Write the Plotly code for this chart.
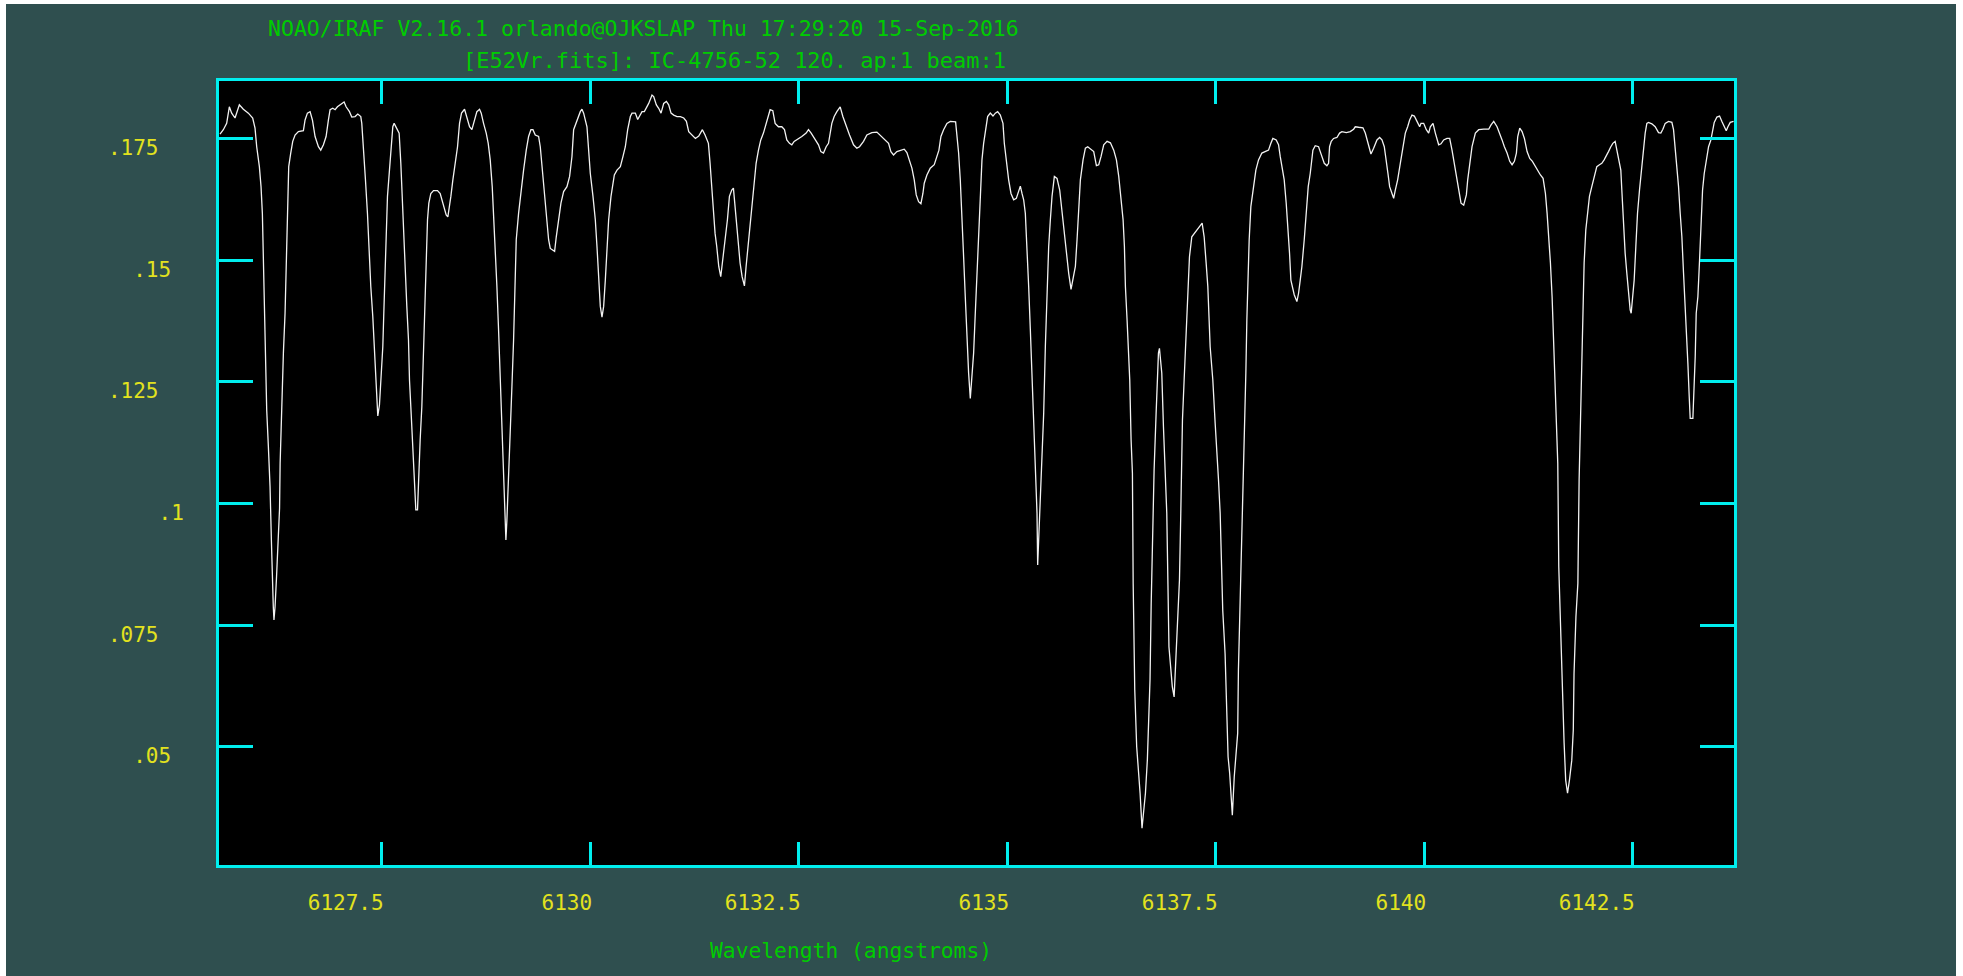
import plotly.graph_objects as go

# ---------------- data ----------------
wavelength = [
    6125.562, 6125.602, 6125.642, 6125.674, 6125.702, 6125.742, 6125.794, 6125.842, 6125.902, 6125.954,
    6125.982, 6126.002, 6126.034, 6126.054, 6126.070, 6126.082, 6126.094, 6126.110, 6126.122, 6126.142,
    6126.162, 6126.178, 6126.190, 6126.201, 6126.209, 6126.222, 6126.240, 6126.258, 6126.276, 6126.283,
    6126.302, 6126.322, 6126.342, 6126.354, 6126.370, 6126.386, 6126.410, 6126.434, 6126.462, 6126.502,
    6126.562, 6126.582, 6126.610, 6126.642, 6126.670, 6126.702, 6126.742, 6126.770, 6126.802, 6126.834,
    6126.862, 6126.882, 6126.914, 6126.942, 6126.970, 6127.002, 6127.050, 6127.074, 6127.114, 6127.142,
    6127.182, 6127.214, 6127.250, 6127.262, 6127.282, 6127.306, 6127.330, 6127.346, 6127.370, 6127.394,
    6127.410, 6127.430, 6127.442, 6127.454, 6127.474, 6127.490, 6127.514, 6127.526, 6127.542, 6127.554,
    6127.570, 6127.594, 6127.614, 6127.634, 6127.650, 6127.682, 6127.710, 6127.730, 6127.742, 6127.762,
    6127.782, 6127.802, 6127.822, 6127.834, 6127.854, 6127.874, 6127.894, 6127.910, 6127.930, 6127.942,
    6127.962, 6127.982, 6127.994, 6128.010, 6128.022, 6128.034, 6128.050, 6128.066, 6128.090, 6128.122,
    6128.170, 6128.202, 6128.226, 6128.250, 6128.274, 6128.294, 6128.314, 6128.330, 6128.354, 6128.382,
    6128.410, 6128.434, 6128.458, 6128.494, 6128.522, 6128.554, 6128.582, 6128.610, 6128.642, 6128.674,
    6128.694, 6128.722, 6128.754, 6128.778, 6128.802, 6128.826, 6128.842, 6128.862, 6128.882, 6128.902,
    6128.922, 6128.942, 6128.962, 6128.978, 6128.990, 6129.002, 6129.022, 6129.042, 6129.062, 6129.082,
    6129.098, 6129.114, 6129.142, 6129.170, 6129.202, 6129.234, 6129.262, 6129.290, 6129.314, 6129.342,
    6129.382, 6129.402, 6129.422, 6129.450, 6129.474, 6129.502, 6129.522, 6129.554, 6129.574, 6129.594,
    6129.622, 6129.650, 6129.682, 6129.722, 6129.754, 6129.782, 6129.802, 6129.842, 6129.882, 6129.902,
    6129.922, 6129.962, 6129.982, 6130.002, 6130.034, 6130.062, 6130.082, 6130.102, 6130.122, 6130.142,
    6130.162, 6130.182, 6130.202, 6130.222, 6130.250, 6130.274, 6130.290, 6130.322, 6130.362, 6130.394,
    6130.422, 6130.450, 6130.482, 6130.502, 6130.542, 6130.570, 6130.594, 6130.622, 6130.650, 6130.674,
    6130.702, 6130.742, 6130.762, 6130.794, 6130.822, 6130.850, 6130.882, 6130.914, 6130.942, 6130.970,
    6131.002, 6131.042, 6131.082, 6131.122, 6131.154, 6131.182, 6131.222, 6131.262, 6131.302, 6131.346,
    6131.378, 6131.418, 6131.438, 6131.458, 6131.478, 6131.498, 6131.518, 6131.542, 6131.566, 6131.590,
    6131.618, 6131.646, 6131.670, 6131.698, 6131.718, 6131.738, 6131.758, 6131.778, 6131.798, 6131.822,
    6131.850, 6131.870, 6131.894, 6131.918, 6131.938, 6131.966, 6131.990, 6132.018, 6132.046, 6132.078,
    6132.110, 6132.138, 6132.158, 6132.190, 6132.218, 6132.258, 6132.298, 6132.330, 6132.358, 6132.390,
    6132.418, 6132.446, 6132.478, 6132.538, 6132.590, 6132.618, 6132.650, 6132.698, 6132.738, 6132.766,
    6132.798, 6132.830, 6132.858, 6132.898, 6132.926, 6132.958, 6132.998, 6133.030, 6133.070, 6133.110,
    6133.158, 6133.198, 6133.230, 6133.278, 6133.318, 6133.378, 6133.438, 6133.478, 6133.538, 6133.578,
    6133.606, 6133.638, 6133.678, 6133.718, 6133.766, 6133.798, 6133.830, 6133.858, 6133.886, 6133.910,
    6133.938, 6133.966, 6133.990, 6134.006, 6134.038, 6134.078, 6134.126, 6134.158, 6134.182, 6134.206,
    6134.238, 6134.278, 6134.318, 6134.382, 6134.398, 6134.418, 6134.438, 6134.458, 6134.478, 6134.498,
    6134.518, 6134.538, 6134.558, 6134.578, 6134.598, 6134.618, 6134.638, 6134.658, 6134.678, 6134.698,
    6134.718, 6134.738, 6134.766, 6134.798, 6134.830, 6134.858, 6134.886, 6134.918, 6134.950, 6134.966,
    6134.990, 6135.018, 6135.046, 6135.078, 6135.110, 6135.138, 6135.158, 6135.178, 6135.198, 6135.218,
    6135.238, 6135.258, 6135.278, 6135.298, 6135.318, 6135.338, 6135.358, 6135.366, 6135.378, 6135.398,
    6135.418, 6135.438, 6135.458, 6135.478, 6135.498, 6135.518, 6135.538, 6135.566, 6135.598, 6135.630,
    6135.658, 6135.686, 6135.710, 6135.738, 6135.766, 6135.790, 6135.818, 6135.838, 6135.858, 6135.878,
    6135.910, 6135.938, 6135.966, 6135.998, 6136.038, 6136.070, 6136.098, 6136.126, 6136.158, 6136.198,
    6136.238, 6136.278, 6136.310, 6136.338, 6136.366, 6136.390, 6136.406, 6136.418, 6136.438, 6136.458,
    6136.470, 6136.486, 6136.502, 6136.511, 6136.530, 6136.553, 6136.576, 6136.594, 6136.617, 6136.635,
    6136.658, 6136.681, 6136.695, 6136.713, 6136.727, 6136.741, 6136.762, 6136.786, 6136.802, 6136.814,
    6136.826, 6136.838, 6136.854, 6136.874, 6136.894, 6136.914, 6136.928, 6136.940, 6136.960, 6136.980,
    6137.002, 6137.016, 6137.034, 6137.053, 6137.066, 6137.082, 6137.102, 6137.122, 6137.146, 6137.166,
    6137.186, 6137.214, 6137.242, 6137.274, 6137.306, 6137.338, 6137.362, 6137.386, 6137.406, 6137.434,
    6137.466, 6137.494, 6137.514, 6137.534, 6137.554, 6137.568, 6137.585, 6137.613, 6137.631, 6137.649,
    6137.668, 6137.686, 6137.700, 6137.723, 6137.746, 6137.764, 6137.773, 6137.796, 6137.815, 6137.834,
    6137.846, 6137.862, 6137.874, 6137.886, 6137.902, 6137.922, 6137.954, 6137.982, 6138.014, 6138.054,
    6138.106, 6138.134, 6138.162, 6138.186, 6138.226, 6138.254, 6138.274, 6138.298, 6138.322, 6138.346,
    6138.366, 6138.386, 6138.402, 6138.426, 6138.442, 6138.474, 6138.494, 6138.514, 6138.534, 6138.562,
    6138.586, 6138.610, 6138.634, 6138.666, 6138.694, 6138.734, 6138.754, 6138.774, 6138.802, 6138.834,
    6138.854, 6138.866, 6138.886, 6138.914, 6138.954, 6138.986, 6139.014, 6139.066, 6139.114, 6139.154,
    6139.174, 6139.214, 6139.266, 6139.294, 6139.314, 6139.334, 6139.362, 6139.394, 6139.434, 6139.466,
    6139.494, 6139.522, 6139.546, 6139.566, 6139.586, 6139.614, 6139.634, 6139.654, 6139.682, 6139.714,
    6139.746, 6139.774, 6139.802, 6139.826, 6139.854, 6139.882, 6139.914, 6139.946, 6139.962, 6139.994,
    6140.026, 6140.054, 6140.074, 6140.106, 6140.134, 6140.154, 6140.174, 6140.202, 6140.234, 6140.274,
    6140.306, 6140.334, 6140.354, 6140.386, 6140.414, 6140.442, 6140.474, 6140.506, 6140.522, 6140.546,
    6140.574, 6140.614, 6140.654, 6140.714, 6140.774, 6140.802, 6140.834, 6140.874, 6140.906, 6140.934,
    6140.962, 6140.994, 6141.026, 6141.054, 6141.082, 6141.106, 6141.122, 6141.146, 6141.174, 6141.202,
    6141.234, 6141.266, 6141.298, 6141.334, 6141.362, 6141.394, 6141.426, 6141.454, 6141.474, 6141.494,
    6141.514, 6141.534, 6141.554, 6141.574, 6141.586, 6141.602, 6141.614, 6141.637, 6141.660, 6141.678,
    6141.697, 6141.719, 6141.742, 6141.770, 6141.788, 6141.797, 6141.820, 6141.843, 6141.858, 6141.878,
    6141.890, 6141.902, 6141.918, 6141.938, 6141.958, 6141.982, 6142.010, 6142.038, 6142.070, 6142.102,
    6142.130, 6142.158, 6142.182, 6142.210, 6142.238, 6142.262, 6142.290, 6142.310, 6142.338, 6142.358,
    6142.370, 6142.390, 6142.410, 6142.430, 6142.450, 6142.470, 6142.482, 6142.498, 6142.518, 6142.538,
    6142.558, 6142.582, 6142.610, 6142.630, 6142.650, 6142.670, 6142.690, 6142.730, 6142.770, 6142.810,
    6142.838, 6142.862, 6142.890, 6142.930, 6142.970, 6142.990, 6143.010, 6143.030, 6143.050, 6143.070,
    6143.090, 6143.110, 6143.130, 6143.142, 6143.162, 6143.178, 6143.190, 6143.222, 6143.238, 6143.250,
    6143.262, 6143.282, 6143.302, 6143.318, 6143.338, 6143.358, 6143.382, 6143.410, 6143.438, 6143.462,
    6143.478, 6143.510, 6143.542, 6143.570, 6143.598, 6143.622, 6143.642, 6143.670, 6143.710,
]

flux = [
    0.1759, 0.1768, 0.1781, 0.1815, 0.1802, 0.1792, 0.1819, 0.1810, 0.1802, 0.1792,
    0.1771, 0.1733, 0.1692, 0.1651, 0.1596, 0.1494, 0.1391, 0.1288, 0.1192, 0.1117,
    0.1035, 0.0925, 0.0829, 0.0788, 0.0761, 0.0788, 0.0850, 0.0932, 0.0990, 0.1083,
    0.1213, 0.1309, 0.1391, 0.1480, 0.1596, 0.1692, 0.1720, 0.1744, 0.1757, 0.1764,
    0.1766, 0.1788, 0.1802, 0.1805, 0.1788, 0.1754, 0.1733, 0.1726, 0.1737, 0.1754,
    0.1788, 0.1809, 0.1812, 0.1809, 0.1815, 0.1819, 0.1825, 0.1815, 0.1805, 0.1794,
    0.1795, 0.1800, 0.1795, 0.1781, 0.1733, 0.1665, 0.1596, 0.1528, 0.1446, 0.1384,
    0.1322, 0.1268, 0.1206, 0.1180, 0.1203, 0.1254, 0.1322, 0.1391, 0.1487, 0.1562,
    0.1631, 0.1685, 0.1733, 0.1774, 0.1781, 0.1771, 0.1761, 0.1699, 0.1644, 0.1569,
    0.1487, 0.1405, 0.1336, 0.1254, 0.1185, 0.1117, 0.1049, 0.0987, 0.0987, 0.1049,
    0.1131, 0.1199, 0.1268, 0.1350, 0.1446, 0.1514, 0.1583, 0.1617, 0.1637, 0.1643,
    0.1643, 0.1637, 0.1624, 0.1610, 0.1593, 0.1589, 0.1610, 0.1631, 0.1665, 0.1699,
    0.1733, 0.1781, 0.1802, 0.1810, 0.1795, 0.1774, 0.1768, 0.1788, 0.1805, 0.1810,
    0.1802, 0.1781, 0.1761, 0.1740, 0.1706, 0.1651, 0.1596, 0.1528, 0.1446, 0.1357,
    0.1254, 0.1151, 0.1049, 0.0953, 0.0925, 0.0966, 0.1049, 0.1131, 0.1240, 0.1336,
    0.1446, 0.1542, 0.1596, 0.1644, 0.1685, 0.1726, 0.1754, 0.1768, 0.1768, 0.1757,
    0.1754, 0.1733, 0.1692, 0.1644, 0.1596, 0.1542, 0.1524, 0.1521, 0.1518, 0.1548,
    0.1583, 0.1617, 0.1641, 0.1651, 0.1672, 0.1713, 0.1768, 0.1788, 0.1805, 0.1810,
    0.1802, 0.1774, 0.1733, 0.1678, 0.1631, 0.1583, 0.1528, 0.1459, 0.1405, 0.1383,
    0.1405, 0.1459, 0.1528, 0.1583, 0.1631, 0.1665, 0.1675, 0.1685, 0.1692, 0.1713,
    0.1733, 0.1768, 0.1795, 0.1802, 0.1802, 0.1789, 0.1798, 0.1805, 0.1805, 0.1812,
    0.1822, 0.1839, 0.1836, 0.1819, 0.1812, 0.1802, 0.1822, 0.1826, 0.1819, 0.1802,
    0.1798, 0.1795, 0.1795, 0.1792, 0.1785, 0.1764, 0.1757, 0.1750, 0.1755, 0.1768,
    0.1757, 0.1740, 0.1699, 0.1644, 0.1596, 0.1555, 0.1528, 0.1487, 0.1466, 0.1500,
    0.1542, 0.1583, 0.1631, 0.1644, 0.1648, 0.1610, 0.1569, 0.1528, 0.1494, 0.1466,
    0.1447, 0.1487, 0.1528, 0.1569, 0.1617, 0.1658, 0.1699, 0.1726, 0.1747, 0.1761,
    0.1781, 0.1802, 0.1809, 0.1807, 0.1781, 0.1774, 0.1774, 0.1768, 0.1747, 0.1740,
    0.1737, 0.1744, 0.1747, 0.1754, 0.1761, 0.1768, 0.1761, 0.1747, 0.1737, 0.1723,
    0.1720, 0.1733, 0.1740, 0.1781, 0.1795, 0.1805, 0.1815, 0.1795, 0.1774, 0.1757,
    0.1737, 0.1730, 0.1733, 0.1744, 0.1757, 0.1762, 0.1763, 0.1757, 0.1747, 0.1740,
    0.1723, 0.1716, 0.1723, 0.1726, 0.1728, 0.1721, 0.1706, 0.1689, 0.1665, 0.1634,
    0.1620, 0.1616, 0.1637, 0.1658, 0.1675, 0.1689, 0.1696, 0.1713, 0.1726, 0.1754,
    0.1768, 0.1781, 0.1785, 0.1784, 0.1761, 0.1720, 0.1665, 0.1596, 0.1507, 0.1425,
    0.1336, 0.1268, 0.1216, 0.1254, 0.1309, 0.1391, 0.1473, 0.1562, 0.1651, 0.1706,
    0.1740, 0.1768, 0.1795, 0.1802, 0.1796, 0.1802, 0.1805, 0.1798, 0.1781, 0.1740,
    0.1699, 0.1665, 0.1637, 0.1624, 0.1627, 0.1644, 0.1652, 0.1637, 0.1624, 0.1596,
    0.1528, 0.1446, 0.1357, 0.1254, 0.1151, 0.1062, 0.0980, 0.0874, 0.0925, 0.1001,
    0.1062, 0.1185, 0.1322, 0.1446, 0.1528, 0.1583, 0.1631, 0.1672, 0.1668, 0.1644,
    0.1596, 0.1562, 0.1514, 0.1473, 0.1440, 0.1459, 0.1487, 0.1542, 0.1610, 0.1665,
    0.1706, 0.1730, 0.1733, 0.1728, 0.1723, 0.1694, 0.1696, 0.1713, 0.1737, 0.1744,
    0.1741, 0.1726, 0.1706, 0.1672, 0.1631, 0.1583, 0.1528, 0.1446, 0.1377, 0.1309,
    0.1254, 0.1131, 0.1062, 0.0836, 0.0617, 0.0501, 0.0453, 0.0405, 0.0333, 0.0364,
    0.0405, 0.0473, 0.0549, 0.0638, 0.0795, 0.0939, 0.1069, 0.1185, 0.1254, 0.1309,
    0.1319, 0.1295, 0.1268, 0.1158, 0.1076, 0.0980, 0.0833, 0.0706, 0.0665, 0.0624,
    0.0603, 0.0658, 0.0740, 0.0809, 0.0843, 0.0980, 0.1172, 0.1254, 0.1357, 0.1459,
    0.1507, 0.1548, 0.1555, 0.1562, 0.1569, 0.1576, 0.1548, 0.1494, 0.1446, 0.1322,
    0.1254, 0.1165, 0.1117, 0.1049, 0.0980, 0.0900, 0.0781, 0.0692, 0.0576, 0.0480,
    0.0446, 0.0391, 0.0360, 0.0439, 0.0487, 0.0528, 0.0658, 0.0816, 0.0932, 0.1035,
    0.1151, 0.1268, 0.1377, 0.1459, 0.1542, 0.1610, 0.1651, 0.1685, 0.1706, 0.1720,
    0.1724, 0.1726, 0.1740, 0.1750, 0.1747, 0.1737, 0.1713, 0.1692, 0.1665, 0.1617,
    0.1569, 0.1514, 0.1459, 0.1439, 0.1429, 0.1415, 0.1432, 0.1459, 0.1487, 0.1542,
    0.1596, 0.1651, 0.1678, 0.1726, 0.1735, 0.1733, 0.1723, 0.1713, 0.1699, 0.1694,
    0.1699, 0.1733, 0.1744, 0.1750, 0.1752, 0.1761, 0.1764, 0.1762, 0.1764, 0.1769,
    0.1774, 0.1773, 0.1772, 0.1761, 0.1747, 0.1733, 0.1718, 0.1730, 0.1747, 0.1752,
    0.1747, 0.1733, 0.1706, 0.1678, 0.1651, 0.1634, 0.1627, 0.1644, 0.1665, 0.1699,
    0.1733, 0.1761, 0.1774, 0.1788, 0.1798, 0.1796, 0.1785, 0.1774, 0.1781, 0.1781,
    0.1768, 0.1761, 0.1774, 0.1781, 0.1761, 0.1747, 0.1737, 0.1739, 0.1747, 0.1750,
    0.1750, 0.1726, 0.1706, 0.1672, 0.1644, 0.1617, 0.1613, 0.1634, 0.1665, 0.1699,
    0.1733, 0.1761, 0.1768, 0.1769, 0.1769, 0.1778, 0.1785, 0.1774, 0.1761, 0.1747,
    0.1733, 0.1720, 0.1703, 0.1696, 0.1703, 0.1720, 0.1754, 0.1771, 0.1764, 0.1750,
    0.1723, 0.1709, 0.1703, 0.1692, 0.1682, 0.1675, 0.1668, 0.1637, 0.1596, 0.1548,
    0.1494, 0.1425, 0.1322, 0.1254, 0.1185, 0.1083, 0.0870, 0.0727, 0.0610, 0.0508,
    0.0432, 0.0405, 0.0432, 0.0473, 0.0535, 0.0651, 0.0768, 0.0836, 0.1049, 0.1220,
    0.1322, 0.1425, 0.1494, 0.1562, 0.1596, 0.1631, 0.1651, 0.1672, 0.1692, 0.1696,
    0.1699, 0.1706, 0.1713, 0.1723, 0.1733, 0.1740, 0.1744, 0.1726, 0.1699, 0.1685,
    0.1644, 0.1576, 0.1514, 0.1473, 0.1432, 0.1398, 0.1391, 0.1418, 0.1459, 0.1528,
    0.1596, 0.1644, 0.1699, 0.1733, 0.1761, 0.1781, 0.1783, 0.1780, 0.1774, 0.1762,
    0.1761, 0.1769, 0.1781, 0.1785, 0.1783, 0.1768, 0.1733, 0.1699, 0.1651, 0.1596,
    0.1548, 0.1473, 0.1411, 0.1357, 0.1288, 0.1220, 0.1175, 0.1175, 0.1240, 0.1302,
    0.1391, 0.1425, 0.1500, 0.1576, 0.1644, 0.1678, 0.1706, 0.1733, 0.1747, 0.1768,
    0.1783, 0.1794, 0.1796, 0.1785, 0.1774, 0.1766, 0.1774, 0.1783, 0.1785,
]

x_ticks = [6127.5, 6130, 6132.5, 6135, 6137.5, 6140, 6142.5]
x_tick_labels = ["6127.5", "6130", "6132.5", "6135", "6137.5", "6140", "6142.5"]
y_ticks = [0.05, 0.075, 0.1, 0.125, 0.15, 0.175]
y_tick_labels = [".05", ".075", ".1", ".125", ".15", ".175"]

title_line1 = "NOAO/IRAF V2.16.1 orlando@OJKSLAP Thu 17:29:20 15-Sep-2016"
title_line2 = "[E52Vr.fits]: IC-4756-52 120. ap:1 beam:1"
x_title = "Wavelength (angstroms)"

x_range = [6125.55, 6143.715]
y_range = [0.02576, 0.1868]

# ---------------- style ----------------
W, H = 1963, 976
ML, MR, MT, MB = 219, 229, 81, 111
PW, PH = W - ML - MR, H - MT - MB
BG = "#2f4f4f"
CYAN = "#00eeee"
YELLOW = "#e2e21e"
GREEN = "#00cc00"
FONT = "DejaVu Sans Mono"
NB = "\u00a0"


def px_to_paper_x(px):
    return (px - ML) / PW


def px_to_paper_y(py):
    return (H - MB - py) / PH


# pad y labels so that they line up the way IRAF lays them out
y_text = [t + NB * (len(t) - 2) for t in y_tick_labels]

fig = go.Figure(
    go.Scatter(
        x=wavelength,
        y=flux,
        mode="lines",
        line=dict(color="#f2f2f2", width=1.3),
        hoverinfo="skip",
        showlegend=False,
    )
)

axis_common = dict(
    showline=True,
    linecolor=CYAN,
    linewidth=3,
    mirror="ticks",
    ticks="inside",
    tickcolor=CYAN,
    tickwidth=3,
    showgrid=False,
    zeroline=False,
    tickfont=dict(family=FONT, size=21, color=YELLOW),
)

fig.update_xaxes(
    range=x_range,
    tickmode="array",
    tickvals=x_ticks,
    ticktext=x_tick_labels,
    ticklen=23,
    ticklabelposition="outside left",
    ticklabelstandoff=17,
    ticklabelshift=5,
    **axis_common,
)
fig.update_yaxes(
    range=y_range,
    tickmode="array",
    tickvals=y_ticks,
    ticktext=y_text,
    ticklen=34,
    ticklabelstandoff=28,
    ticklabelshift=9,
    **axis_common,
)

# white border strips (left, top, right) seen at the edge of the reference
strips = [
    (0, 0, 6, H),
    (0, 0, W, 4),
    (1956, 0, W, H),
]
shapes = []
for x0, y0, x1, y1 in strips:
    shapes.append(
        dict(
            type="rect",
            xref="paper",
            yref="paper",
            x0=px_to_paper_x(x0),
            x1=px_to_paper_x(x1),
            y0=px_to_paper_y(y1),
            y1=px_to_paper_y(y0),
            fillcolor="white",
            line=dict(width=0),
            layer="above",
        )
    )

annotations = [
    dict(text=title_line1, x=px_to_paper_x(643), y=px_to_paper_y(29),
         xref="paper", yref="paper", xanchor="center", yanchor="middle", showarrow=False,
         font=dict(family=FONT, size=21.5, color=GREEN)),
    dict(text=title_line2, x=px_to_paper_x(734), y=px_to_paper_y(60.5),
         xref="paper", yref="paper", xanchor="center", yanchor="middle", showarrow=False,
         font=dict(family=FONT, size=22, color=GREEN)),
    dict(text=x_title, x=px_to_paper_x(851), y=px_to_paper_y(950),
         xref="paper", yref="paper", xanchor="center", yanchor="middle", showarrow=False,
         font=dict(family=FONT, size=21.3, color=GREEN)),
]

fig.update_layout(
    width=W,
    height=H,
    autosize=False,
    margin=dict(l=ML, r=MR, t=MT, b=MB, pad=0),
    paper_bgcolor=BG,
    plot_bgcolor="black",
    shapes=shapes,
    annotations=annotations,
    hovermode=False,
)

fig.write_html(
    "out.html",
    config={"displayModeBar": False, "staticPlot": True},
    post_script="document.body.style.margin='0';document.body.style.overflow='hidden';",
)
